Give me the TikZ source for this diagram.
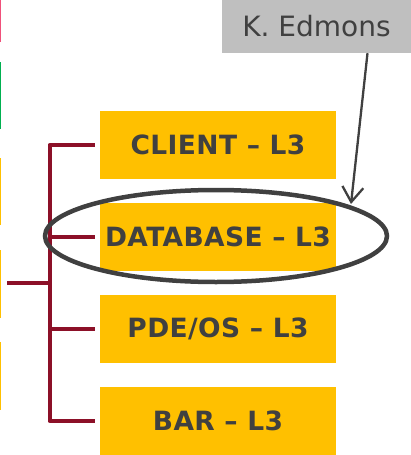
\documentclass[tikz,border=0pt]{standalone}
\usepackage{fontspec}
\setmainfont{DejaVu Sans}
\newfontfamily\levelfont[LetterSpace=1.5]{DejaVu Sans Bold}
\newfontfamily\namefont{DejaVu Sans}
\usetikzlibrary{shapes.geometric,arrows.meta}
\definecolor{boxyellow}{HTML}{FFC000}
\definecolor{treered}{HTML}{8C1028}
\definecolor{textgray}{HTML}{404040}
\definecolor{labelgray}{HTML}{BFBFBF}
\definecolor{edgepink}{HTML}{F0507A}
\definecolor{edgegreen}{HTML}{00B050}
\tikzset{
  levelbox/.style={fill=boxyellow, text=textgray, minimum width=236pt, minimum height=68pt,
    inner sep=0pt, font=\levelfont\fontsize{26.5}{30}\selectfont},
  tree/.style={draw=treered, line width=4.5pt, line join=round},
  namebox/.style={fill=labelgray, text=textgray, minimum width=190pt, minimum height=53pt,
    inner sep=0pt, font=\namefont\fontsize{28}{32}\selectfont},
  ring/.style={ellipse, draw=textgray, line width=4.5pt, minimum width=342pt, minimum height=92pt},
  pointer/.style={draw=textgray, line width=2.3pt, -{Straight Barb[length=15pt,width=21pt,line width=2.3pt]}},
  strip/.style={line width=1.2pt}
}
\begin{document}
\begin{tikzpicture}[x=1pt,y=-1pt]
  \useasboundingbox (0,0) rectangle (411,455);
  % coloured slide edges on the left
  \draw[strip, edgepink] (0.6,0) -- (0.6,42);
  \draw[strip, edgegreen] (0.6,62) -- (0.6,129);
  \draw[strip, boxyellow] (0.6,158) -- (0.6,225);
  \draw[strip, boxyellow] (0.6,250) -- (0.6,318);
  \draw[strip, boxyellow] (0.6,342) -- (0.6,410);

  % level boxes
  \node[levelbox] (client) at (218,145) {CLIENT – L3};
  \node[levelbox] (db) at (218,237) {DATABASE – L3};
  \node[levelbox] (pde) at (218,329) {PDE/OS – L3};
  \node[levelbox] (bar) at (218,421) {BAR – L3};

  % bracket tree
  \coordinate (root) at (7,283);
  \coordinate (joint) at (50,283);
  \draw[tree] ([xshift=-5pt]client.west) -- ([xshift=-50pt]client.west)
     -- ([xshift=-50pt]bar.west) -- ([xshift=-5pt]bar.west);
  \draw[tree] ([xshift=-50pt]db.west) -- ([xshift=-5pt]db.west);
  \draw[tree] ([xshift=-50pt]pde.west) -- ([xshift=-5pt]pde.west);
  \draw[tree] (root) -- (joint);

  % author label and pointer
  \node[namebox] (author) at (316.5,26.5) {K.\ Edmons};
  \node[ring] (focus) at (216,236) {};
  \coordinate (tip) at (351,204);
  \draw[pointer] ([xshift=51pt]author.south) -- (tip);
\end{tikzpicture}
\end{document}
